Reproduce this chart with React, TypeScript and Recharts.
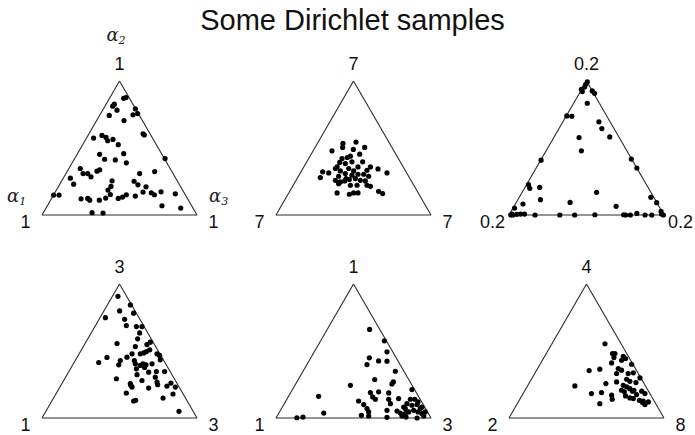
import React from 'react';
import { ScatterChart, Scatter, XAxis, YAxis, ReferenceLine } from 'recharts';

// ---- text ----
const TITLE = 'Some Dirichlet samples';
const COMPONENT_NAMES = ['1', '2', '3']; // α subscripts: left, top, right

// Dirichlet parameters per panel: [α1 (left), α2 (top), α3 (right)]
const alphaA = ['1', '1', '1'];
const alphaB = ['7', '7', '7'];
const alphaC = ['0.2', '0.2', '0.2'];
const alphaD = ['1', '3', '3'];
const alphaE = ['1', '1', '3'];
const alphaF = ['2', '4', '8'];

// Samples projected on the simplex: [position along base (0 = α1, 1 = α3), height (1 = α2)]
const samplesA: [number, number][] = [
  [0.527, 0.871], [0.542, 0.876], [0.467, 0.827], [0.456, 0.812], [0.484, 0.782], [0.434, 0.743],
  [0.602, 0.792], [0.617, 0.757], [0.587, 0.748], [0.529, 0.705], [0.652, 0.606], [0.66, 0.597],
  [0.387, 0.594], [0.333, 0.574], [0.413, 0.579], [0.424, 0.554], [0.458, 0.564], [0.492, 0.525],
  [0.372, 0.453], [0.527, 0.458], [0.404, 0.416], [0.473, 0.411], [0.544, 0.389], [0.794, 0.421],
  [0.247, 0.347], [0.265, 0.309], [0.295, 0.309], [0.316, 0.285], [0.355, 0.327], [0.372, 0.337],
  [0.727, 0.324], [0.183, 0.275], [0.204, 0.23], [0.63, 0.309], [0.452, 0.255], [0.594, 0.252],
  [0.619, 0.225], [0.445, 0.213], [0.426, 0.186], [0.671, 0.21], [0.075, 0.149], [0.11, 0.149],
  [0.252, 0.121], [0.295, 0.124], [0.308, 0.111], [0.37, 0.111], [0.411, 0.126], [0.441, 0.153],
  [0.492, 0.124], [0.52, 0.134], [0.544, 0.151], [0.602, 0.141], [0.652, 0.171], [0.705, 0.166],
  [0.725, 0.151], [0.768, 0.173], [0.86, 0.158], [0.774, 0.069], [0.895, 0.052], [0.323, 0.017],
  [0.394, 0.015],
];

const samplesB: [number, number][] = [
  [0.432, 0.534], [0.516, 0.544], [0.43, 0.504], [0.361, 0.479], [0.499, 0.489], [0.572, 0.504],
  [0.48, 0.439], [0.46, 0.429], [0.426, 0.421], [0.54, 0.454], [0.447, 0.384], [0.411, 0.392],
  [0.394, 0.359], [0.49, 0.397], [0.559, 0.397], [0.529, 0.359], [0.383, 0.347], [0.415, 0.329],
  [0.469, 0.347], [0.501, 0.329], [0.609, 0.359], [0.658, 0.344], [0.587, 0.334], [0.301, 0.322],
  [0.34, 0.314], [0.286, 0.279], [0.447, 0.309], [0.49, 0.297], [0.529, 0.304], [0.566, 0.304],
  [0.598, 0.289], [0.716, 0.314], [0.383, 0.259], [0.415, 0.247], [0.443, 0.254], [0.473, 0.264],
  [0.512, 0.272], [0.544, 0.259], [0.576, 0.254], [0.404, 0.234], [0.48, 0.222], [0.523, 0.222],
  [0.587, 0.222], [0.609, 0.214], [0.394, 0.165], [0.473, 0.155], [0.501, 0.165], [0.529, 0.165],
  [0.662, 0.177], [0.688, 0.16], [0.404, 0.289], [0.452, 0.272],
];

const samplesC: [number, number][] = [
  [0.505, 0.993], [0.495, 0.975], [0.488, 0.955], [0.467, 0.938], [0.473, 0.921], [0.537, 0.926],
  [0.552, 0.908], [0.505, 0.834], [0.373, 0.739], [0.405, 0.737], [0.58, 0.695], [0.599, 0.645],
  [0.65, 0.583], [0.452, 0.578], [0.467, 0.479], [0.207, 0.409], [0.789, 0.417], [0.825, 0.35],
  [0.126, 0.226], [0.134, 0.199], [0.198, 0.206], [0.203, 0.114], [0.915, 0.132], [0.09, 0.082],
  [0.036, 0.052], [0.394, 0.094], [0.565, 0.169], [0.691, 0.065], [0.953, 0.092], [0.981, 0.027],
  [0.011, 0.0], [0.026, 0.0], [0.051, 0.005], [0.075, 0.007], [0.1, 0.007], [0.168, 0.0],
  [0.328, 0.0], [0.424, 0.0], [0.554, 0.002], [0.74, 0.002], [0.753, 0.0], [0.783, 0.0],
  [0.825, 0.012], [0.878, 0.0], [0.921, 0.0], [0.985, 0.007], [0.996, 0.0], [0.019, 0.007],
];

const samplesD: [number, number][] = [
  [0.49, 0.908], [0.57, 0.844], [0.409, 0.749], [0.501, 0.799], [0.591, 0.782], [0.533, 0.737],
  [0.544, 0.69], [0.609, 0.682], [0.645, 0.682], [0.63, 0.635], [0.617, 0.591], [0.699, 0.566],
  [0.677, 0.548], [0.484, 0.556], [0.602, 0.533], [0.695, 0.509], [0.742, 0.479], [0.759, 0.467],
  [0.634, 0.479], [0.656, 0.486], [0.673, 0.496], [0.581, 0.479], [0.548, 0.454], [0.419, 0.452],
  [0.505, 0.429], [0.366, 0.414], [0.495, 0.397], [0.596, 0.429], [0.602, 0.404], [0.652, 0.404],
  [0.671, 0.397], [0.71, 0.404], [0.763, 0.434], [0.609, 0.367], [0.662, 0.377], [0.688, 0.342],
  [0.738, 0.347], [0.791, 0.347], [0.613, 0.323], [0.731, 0.305], [0.742, 0.268], [0.746, 0.248],
  [0.48, 0.293], [0.645, 0.28], [0.57, 0.256], [0.581, 0.231], [0.806, 0.238], [0.832, 0.261],
  [0.86, 0.231], [0.688, 0.223], [0.544, 0.186], [0.845, 0.179], [0.781, 0.149], [0.591, 0.127],
  [0.604, 0.132], [0.884, 0.05], [0.634, 0.392], [0.574, 0.243],
];

const samplesE: [number, number][] = [
  [0.604, 0.661], [0.699, 0.576], [0.716, 0.494], [0.602, 0.449], [0.587, 0.399], [0.662, 0.426],
  [0.716, 0.424], [0.77, 0.349], [0.637, 0.287], [0.48, 0.244], [0.757, 0.269], [0.748, 0.254],
  [0.877, 0.212], [0.662, 0.195], [0.609, 0.19], [0.624, 0.157], [0.641, 0.14], [0.727, 0.187],
  [0.275, 0.162], [0.533, 0.127], [0.791, 0.145], [0.727, 0.14], [0.867, 0.14], [0.895, 0.14],
  [0.916, 0.12], [0.845, 0.107], [0.877, 0.095], [0.91, 0.1], [0.942, 0.082], [0.738, 0.107],
  [0.566, 0.1], [0.587, 0.07], [0.598, 0.045], [0.716, 0.057], [0.781, 0.052], [0.802, 0.037],
  [0.834, 0.07], [0.856, 0.045], [0.888, 0.057], [0.916, 0.045], [0.942, 0.032], [0.963, 0.045],
  [0.551, 0.02], [0.598, 0.015], [0.716, 0.005], [0.813, 0.015], [0.839, 0.007], [0.91, 0.0],
  [0.953, 0.015], [0.135, 0.002], [0.174, 0.007], [0.308, 0.037], [0.931, 0.07], [0.834, 0.032],
  [0.824, 0.082],
];

const samplesF: [number, number][] = [
  [0.619, 0.554], [0.668, 0.481], [0.683, 0.481], [0.737, 0.461], [0.752, 0.444], [0.726, 0.431],
  [0.791, 0.401], [0.662, 0.411], [0.705, 0.369], [0.726, 0.357], [0.769, 0.332], [0.802, 0.337],
  [0.694, 0.332], [0.517, 0.354], [0.586, 0.364], [0.425, 0.239], [0.625, 0.257], [0.694, 0.269],
  [0.759, 0.289], [0.78, 0.274], [0.845, 0.299], [0.819, 0.264], [0.737, 0.244], [0.759, 0.232],
  [0.726, 0.207], [0.78, 0.219], [0.806, 0.207], [0.856, 0.2], [0.877, 0.182], [0.532, 0.182],
  [0.597, 0.19], [0.662, 0.17], [0.666, 0.14], [0.752, 0.165], [0.78, 0.15], [0.802, 0.145],
  [0.841, 0.132], [0.866, 0.127], [0.899, 0.12], [0.586, 0.107], [0.862, 0.115], [0.877, 0.1],
  [0.797, 0.2], [0.744, 0.195], [0.823, 0.175], [0.677, 0.451],
];

// simplex corners in the projected plane
const CORNERS = [
  { x: 0, y: 0 },
  { x: 0.5, y: 1 },
  { x: 1, y: 0 },
];

// ---- layout ----
const W = 695;
const H = 435;
const COL_X = [42, 276, 509]; // left corner of each triangle
const ROW_Y = [81, 284]; // apex of each triangle row
const TRI_W = 155;
const TRI_H = 134;
const PAD = 8;
const FONT = '"Liberation Sans", Arial, sans-serif';

const panels = [
  { alphas: alphaA, samples: samplesA, col: 0, row: 0 },
  { alphas: alphaB, samples: samplesB, col: 1, row: 0 },
  { alphas: alphaC, samples: samplesC, col: 2, row: 0 },
  { alphas: alphaD, samples: samplesD, col: 0, row: 1 },
  { alphas: alphaE, samples: samplesE, col: 1, row: 1 },
  { alphas: alphaF, samples: samplesF, col: 2, row: 1 },
];

const Dot = (p: any) => <circle cx={p.cx} cy={p.cy} r={2.6} fill="#000" />;

function Panel({ samples }: { samples: [number, number][] }) {
  const data = samples.map(([x, y]) => ({ x, y }));
  const edges = [
    [CORNERS[0], CORNERS[1]],
    [CORNERS[1], CORNERS[2]],
    [CORNERS[2], CORNERS[0]],
  ];
  return (
    <ScatterChart
      width={TRI_W + 2 * PAD}
      height={TRI_H + 2 * PAD}
      margin={{ top: PAD, right: PAD, bottom: PAD, left: PAD }}
    >
      <XAxis type="number" dataKey="x" domain={[0, 1]} hide />
      <YAxis type="number" dataKey="y" domain={[0, 1]} hide />
      {edges.map((seg, i) => (
        <ReferenceLine key={i} segment={seg as any} stroke="#2a2a2a" strokeWidth={1.1} ifOverflow="visible" />
      ))}
      <Scatter data={data} shape={Dot} isAnimationActive={false} />
    </ScatterChart>
  );
}

function AlphaName({ x, y, sub, anchor }: { x: number; y: number; sub: string; anchor: 'start' | 'middle' }) {
  return (
    <text x={x} y={y} textAnchor={anchor} fill="#222" fontFamily='"DejaVu Serif", serif' fontStyle="italic" fontSize={18}>
      α<tspan fontSize={11} dy={3}>{sub}</tspan>
    </text>
  );
}

export default function App() {
  return (
    <div style={{ position: 'absolute', left: 0, top: 0, width: W, height: H, background: '#fff', overflow: 'hidden' }}>
      {panels.map((p, i) => (
        <div
          key={i}
          style={{ position: 'absolute', left: COL_X[p.col] - PAD, top: ROW_Y[p.row] - PAD }}
        >
          <Panel samples={p.samples} />
        </div>
      ))}
      <svg width={W} height={H} style={{ position: 'absolute', left: 0, top: 0, pointerEvents: 'none' }}>
        <text x={352.5} y={30} textAnchor="middle" fontFamily={FONT} fontSize={29} fill="#111">
          {TITLE}
        </text>
        {panels.map((p, i) => {
          const left = COL_X[p.col];
          const apexY = ROW_Y[p.row];
          const baseY = apexY + TRI_H;
          return (
            <g key={i} fontFamily={FONT} fontSize={18} fill="#111" textAnchor="middle">
              <text x={left - 16.5} y={baseY + 13}>{p.alphas[0]}</text>
              <text x={left + TRI_W / 2} y={apexY - 11.5}>{p.alphas[1]}</text>
              <text x={left + TRI_W + 16.5} y={baseY + 13}>{p.alphas[2]}</text>
            </g>
          );
        })}
        <AlphaName x={116} y={41} sub={COMPONENT_NAMES[1]} anchor="middle" />
        <AlphaName x={7} y={202} sub={COMPONENT_NAMES[0]} anchor="start" />
        <AlphaName x={209} y={202} sub={COMPONENT_NAMES[2]} anchor="start" />
      </svg>
    </div>
  );
}
